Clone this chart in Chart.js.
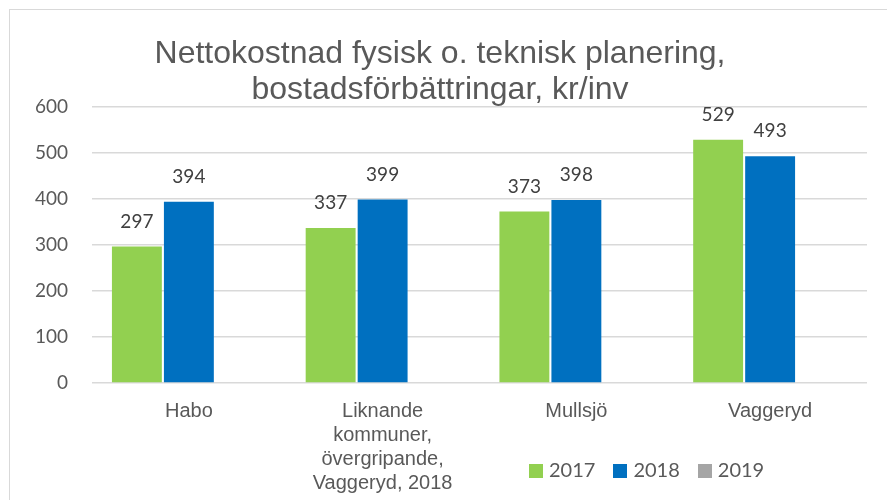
<!DOCTYPE html>
<html>
<head>
<meta charset="utf-8">
<script src="https://cdn.jsdelivr.net/npm/chart.js@4.4.1/dist/chart.umd.min.js"></script>
<style>
  html, body { margin: 0; padding: 0; background: #fff; overflow: hidden; }
  #wrap { position: relative; width: 887px; height: 500px; }
  #frame { position: absolute; left: 9px; top: 9px; width: 900px; height: 520px; border: 1px solid #d9d9d9; box-sizing: border-box; }
  canvas { position: absolute; left: 0; top: 0; }
  #legend { position: absolute; left: 529px; top: 457px; font-family: Lato, 'Open Sans', sans-serif; font-size: 20px; color: #595959; white-space: nowrap; }
  #legend span.item { display: inline-block; margin-right: 18px; }
  #legend span.box { display: inline-block; width: 14px; height: 14px; margin-right: 6px; vertical-align: -1px; }
</style>
</head>
<body>
<div id="wrap">
  <div id="frame"></div>
  <canvas id="chart" width="887" height="500"></canvas>
  <div id="legend"></div>
</div>
<script>
// Data
const categories = [
  ['Habo'],
  ['Liknande', 'kommuner,', 'övergripande,', 'Vaggeryd, 2018'],
  ['Mullsjö'],
  ['Vaggeryd']
];
const seriesNames = ['2017', '2018', '2019'];
const values2017 = [297, 337, 373, 529];
const values2018 = [394, 399, 398, 493];
const values2019 = [null, null, null, null];
const seriesColors = ['#92D050', '#0070C0', '#A5A5A5'];
const titleLines = ['Nettokostnad fysisk o. teknisk planering,', 'bostadsförbättringar, kr/inv'];
const yTicks = [0, 100, 200, 300, 400, 500, 600];

// Etiquettes de valeurs au-dessus des barres
const valueLabels = {
  id: 'valueLabels',
  afterDatasetsDraw(chart) {
    const ctx = chart.ctx;
    ctx.save();
    ctx.font = "19px Lato, 'Open Sans', sans-serif";
    ctx.fillStyle = '#404040';
    ctx.textAlign = 'center';
    ctx.textBaseline = 'middle';
    chart.data.datasets.forEach((ds, i) => {
      const meta = chart.getDatasetMeta(i);
      meta.data.forEach((bar, j) => {
        const v = ds.data[j];
        if (v == null) return;
        ctx.fillText(String(v), bar.x, bar.y - 25);
      });
    });
    ctx.restore();
  }
};

const allData = [values2017, values2018, values2019];

new Chart(document.getElementById('chart'), {
  type: 'bar',
  data: {
    labels: categories,
    datasets: seriesNames.map((name, i) => ({
      label: name,
      data: allData[i],
      backgroundColor: seriesColors[i],
      borderWidth: 0,
      categoryPercentage: 0.805,
      barPercentage: 0.96
    }))
  },
  options: {
    responsive: false,
    animation: false,
    layout: { padding: { left: 13, right: 20, top: 0, bottom: 0 } },
    plugins: {
      legend: { display: false },
      tooltip: { enabled: false },
      title: {
        display: true,
        text: titleLines,
        color: '#595959',
        font: { family: "'Liberation Sans', Arial, sans-serif", size: 32, weight: 'normal', lineHeight: 1.125 },
        padding: { top: 36, bottom: -1 }
      }
    },
    scales: {
      x: {
        grid: { display: false, drawTicks: false },
        border: { display: false },
        ticks: {
          color: '#595959',
          font: { family: "'Liberation Sans', Arial, sans-serif", size: 20, lineHeight: 1.2 },
          padding: 16,
          maxRotation: 0,
          autoSkip: false
        },
        afterFit(scale) { scale.height = 117; }
      },
      y: {
        min: 0,
        max: 600,
        afterBuildTicks(scale) { scale.ticks = yTicks.map(v => ({ value: v })); },
        grid: { color: '#d9d9d9', lineWidth: 1.5, drawTicks: false },
        border: { display: false },
        ticks: {
          color: '#595959',
          font: { family: "Lato, 'Open Sans', sans-serif", size: 19 },
          padding: 24
        },
        afterFit(scale) { scale.width = 79; }
      }
    }
  },
  plugins: [valueLabels]
});

// Légende HTML
const legend = document.getElementById('legend');
seriesNames.forEach((name, i) => {
  const item = document.createElement('span');
  item.className = 'item';
  item.innerHTML = '<span class="box" style="background:' + seriesColors[i] + '"></span>' + name;
  legend.appendChild(item);
});
</script>
</body>
</html>
